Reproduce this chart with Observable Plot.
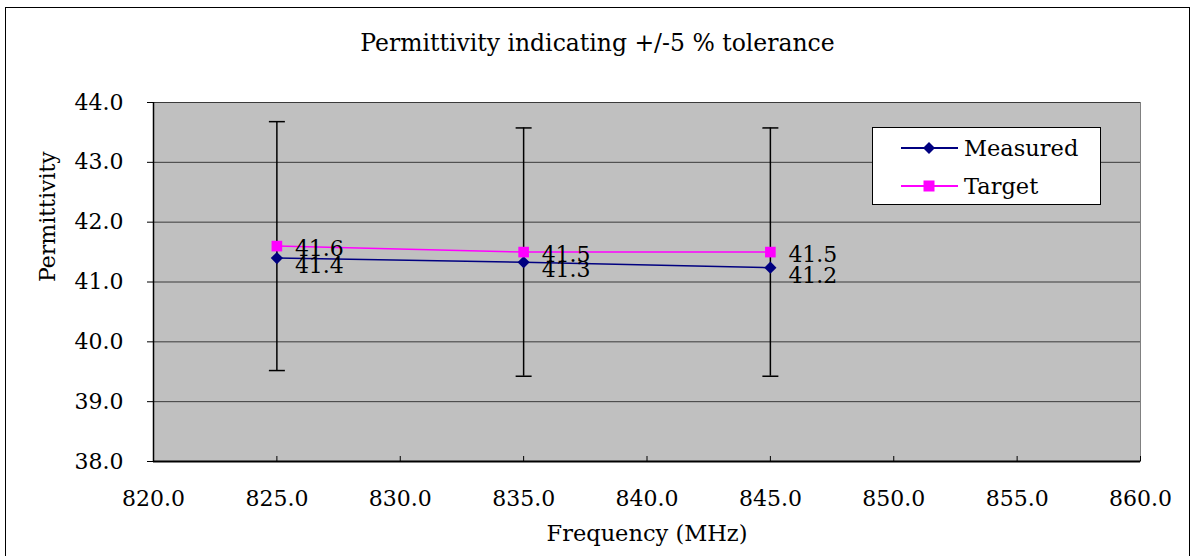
<!DOCTYPE html>
<html><head><meta charset="utf-8">
<script src="https://cdn.jsdelivr.net/npm/d3@7"></script>
<script src="https://cdn.jsdelivr.net/npm/@observablehq/plot@0.6"></script>
<style>
body{margin:0;background:#fff;font-family:"DejaVu Serif",serif;}
#wrap{position:relative;width:1195px;height:556px;overflow:hidden;}
#border{position:absolute;left:5px;top:7px;width:1183px;height:600px;border:1.5px solid #000;}
#chart{position:absolute;left:0;top:0;}
#title{position:absolute;left:0;top:29px;width:1195px;text-align:center;font-size:23.5px;color:#000;}
#legend{position:absolute;left:872px;top:127px;width:229px;height:78px;background:#fff;border:1px solid #000;box-sizing:border-box;}
#legend .row{position:absolute;left:0;height:30px;display:flex;align-items:center;font-size:22.5px;}
#legend svg{display:block;}
</style>
</head><body>
<div id="wrap">
  <div id="border"></div>
  <div id="chart"></div>
  <div id="title">Permittivity indicating +/-5 % tolerance</div>
  <div id="legend"></div>
</div>
<script>
const frequencies = [825, 835, 845];
const measured = [41.40, 41.33, 41.24];
const target = [41.6, 41.5, 41.5];
const tolerance = 0.05;
const xTicks = [820, 825, 830, 835, 840, 845, 850, 855, 860];
const yTicks = [38, 39, 40, 41, 42, 43, 44];
const seriesNames = ["Measured", "Target"];
const seriesColors = ["#000080", "#FF00FF"];

const rows = frequencies.map((f, i) => ({
  f, measured: measured[i], target: target[i],
  lo: target[i] * (1 - tolerance), hi: target[i] * (1 + tolerance)
}));
const fmt = d3.format(".1f");
const capSymbol = {draw(ctx, size) { const r = Math.sqrt(size / Math.PI); ctx.moveTo(-r, 0); ctx.lineTo(r, 0); }};

const chart = Plot.plot({
  width: 1195, height: 556,
  marginLeft: 153, marginRight: 55, marginTop: 102, marginBottom: 95,
  style: {fontFamily: "'DejaVu Serif', serif", fontSize: "22px", color: "#000", background: "transparent"},
  x: {domain: [xTicks[0], xTicks[xTicks.length - 1]]},
  y: {domain: [yTicks[0], yTicks[yTicks.length - 1]]},
  marks: [
    Plot.frame({fill: "#C0C0C0", stroke: "#808080"}),
    Plot.gridY(yTicks, {stroke: "#3a3a3a", strokeOpacity: 1}),
    Plot.ruleX([xTicks[0]], {stroke: "#000", strokeWidth: 1.5}),
    Plot.ruleY([yTicks[0]], {stroke: "#000", strokeWidth: 2}),
    Plot.axisY(yTicks, {tickSize: 6, tickPadding: 24, tickFormat: fmt, label: null, fontSize: 22, stroke: "#000"}),
    Plot.axisX(xTicks, {tickSize: -5, tickPadding: 34, tickFormat: fmt, label: null, fontSize: 22, stroke: "#000"}),
    Plot.ruleX(rows, {x: "f", y1: "lo", y2: "hi", stroke: "#000", strokeWidth: 1.5}),
    Plot.dot(rows, {x: "f", y: "lo", symbol: capSymbol, r: 8, stroke: "#000", strokeWidth: 1.5}),
    Plot.dot(rows, {x: "f", y: "hi", symbol: capSymbol, r: 8, stroke: "#000", strokeWidth: 1.5}),
    Plot.line(rows, {x: "f", y: "measured", stroke: seriesColors[0], strokeWidth: 1.5}),
    Plot.line(rows, {x: "f", y: "target", stroke: seriesColors[1], strokeWidth: 1.5}),
    Plot.dot(rows, {x: "f", y: "measured", symbol: "diamond2", r: 5.5, fill: seriesColors[0], stroke: null}),
    Plot.dot(rows, {x: "f", y: "target", symbol: "square", r: 6, fill: seriesColors[1], stroke: null}),
    Plot.text(rows, {x: "f", y: "target", text: d => fmt(d.target), textAnchor: "start", dx: 18, dy: 3, fontSize: 22, fill: "#000"}),
    Plot.text(rows, {x: "f", y: "measured", text: d => fmt(d.measured), textAnchor: "start", dx: 18, dy: 8, fontSize: 22, fill: "#000"}),
    Plot.text(["Permittivity"], {frameAnchor: "left", dx: -106, rotate: -90, text: d => d, fontSize: 22, fill: "#000"}),
    Plot.text(["Frequency (MHz)"], {frameAnchor: "bottom", dy: 79, text: d => d, fontSize: 22.5, fill: "#000"})
  ]
});
document.getElementById("chart").appendChild(chart);

const legend = document.getElementById("legend");
const markers = [
  '<path d="M28,3 L34,9 L28,15 L22,9 Z" fill="#000080"/>',
  '<rect x="22.5" y="3.5" width="11" height="11" fill="#FF00FF"/>'
];
seriesNames.forEach((name, i) => {
  const row = document.createElement("div");
  row.className = "row";
  row.style.top = (i === 0 ? 5 : 43) + "px";
  row.style.left = "28px";
  row.innerHTML = `<svg width="58" height="18"><line x1="0" y1="9" x2="57" y2="9" stroke="${seriesColors[i]}" stroke-width="2"/>${markers[i]}</svg><span style="margin-left:5px">${name}</span>`;
  legend.appendChild(row);
});
</script>
</body></html>
